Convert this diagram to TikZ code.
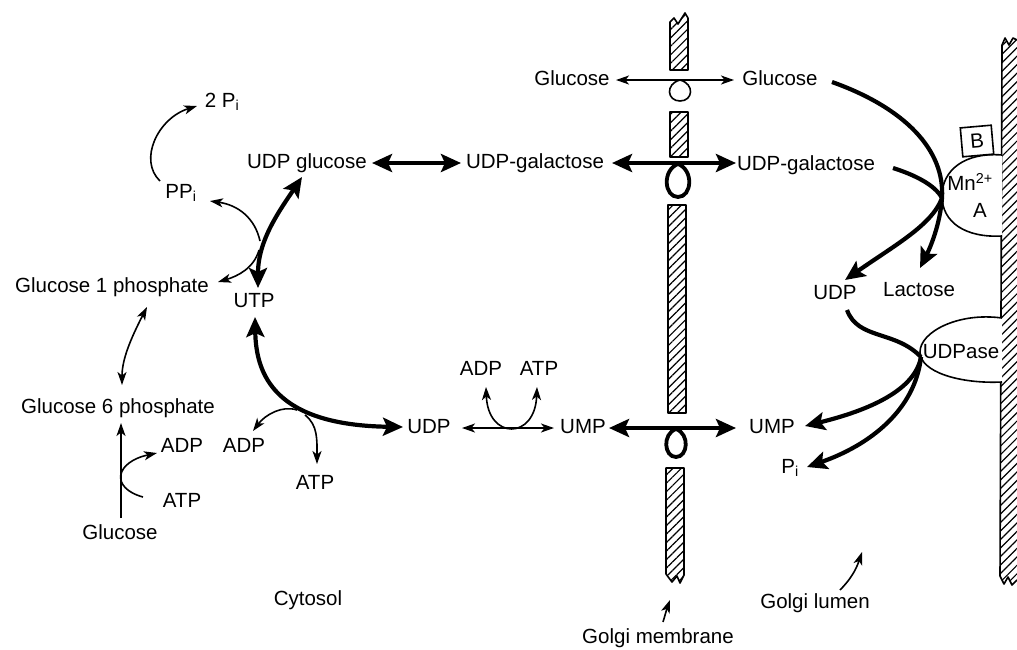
\documentclass[tikz,border=0pt]{standalone}
\usepackage{fontspec}
\setmainfont{Liberation Sans}
\usetikzlibrary{arrows.meta,patterns.meta}
\begin{document}
\begin{tikzpicture}[x=1pt,y=-1pt,
  lbl/.style={font=\fontsize{20.5}{23}\selectfont, inner sep=0pt},
  tarr/.style={line width=1.6pt, -{Stealth[length=13pt,width=9pt,inset=3.5pt]}},
  tboth/.style={line width=1.6pt, {Stealth[length=13pt,width=9pt,inset=3.5pt]}-{Stealth[length=13pt,width=9pt,inset=3.5pt]}},
  tline/.style={line width=1.6pt},
  barr/.style={line width=4.2pt, -{Stealth[length=20pt,width=18pt,inset=4pt]}},
  bboth/.style={line width=4.2pt, {Stealth[length=20pt,width=18pt,inset=4pt]}-{Stealth[length=20pt,width=18pt,inset=4pt]}},
  bline/.style={line width=4.2pt},
  hatch/.style={draw, line width=1.6pt, line join=round, pattern={Lines[angle=45,distance=6pt,line width=1.2pt]}},
  enz/.style={draw, line width=1.6pt, fill=white},
]
\useasboundingbox (0,0) rectangle (1017,649);

% ---------- membranes ----------
\path[hatch] (670,70) -- (670,22) -- (674,18) -- (678,24) -- (685,13) -- (688,18) -- (688,70) -- cycle;
\path[hatch] (670,112) rectangle (688,157);
\path[hatch] (668,205) rectangle (686,413);
\path[hatch] (666,468) -- (684,468) -- (684,575) -- (680,583) -- (677,576) -- (672,582) -- (666,574) -- cycle;
\path[pattern={Lines[angle=45,distance=6pt,line width=1.2pt]}] (1002,45) -- (1005,38) -- (1009,45) -- (1013,38) -- (1017,40) -- (1017,580) -- (1012,585) -- (1008,577) -- (1004,584) -- (1000,576) -- cycle;
\draw[line width=1.6pt, line join=round] (1017,40) -- (1013,38) -- (1009,45) -- (1005,38) -- (1002,45) -- (1000,576) -- (1004,584) -- (1008,577) -- (1012,585) -- (1017,580);

% ---------- enzymes ----------
\draw[enz] (1002,155) .. controls (965,152) and (942,170) .. (942,196) .. controls (942,222) and (965,238) .. (1002,236);
\node[draw, line width=1.6pt, fill=white, minimum width=31pt, minimum height=29pt, inner sep=0pt, rotate=5, font=\fontsize{20.5}{23}\selectfont] (B) at (977,141) {B};
\draw[enz] (1002,318) .. controls (958,312) and (920,332) .. (920,352) .. controls (920,372) and (960,384) .. (1002,382);

% ---------- labels ----------
\node[lbl] (twoPi) at (222,102) {2 P\textsubscript{i}};
\node[lbl] (PPi) at (181,193) {PP\textsubscript{i}};
\node[lbl] (udpglu) at (307,163) {UDP glucose};
\node[lbl] (udpgalL) at (535,163) {UDP-galactose};
\node[lbl] (glcL) at (572,78) {Glucose};
\node[lbl] (glcR) at (780,78) {Glucose};
\node[lbl] (udpgalR) at (806,165) {UDP-galactose};
\node[lbl] (g1p) at (112,287) {Glucose 1 phosphate};
\node[lbl] (utp) at (254,301) {UTP};
\node[lbl] (g6p) at (118,408) {Glucose 6 phosphate};
\node[lbl] (adpA) at (182,445) {ADP};
\node[lbl] (atpA) at (182,500) {ATP};
\node[lbl] (glc) at (120,532) {Glucose};
\node[lbl] (adpB) at (244,445) {ADP};
\node[lbl] (atpB) at (315,482) {ATP};
\node[lbl] (udpC) at (429,427) {UDP};
\node[lbl] (adpC) at (481,368) {ADP};
\node[lbl] (atpC) at (539,368) {ATP};
\node[lbl] (umpL) at (583,427) {UMP};
\node[lbl] (umpR) at (772,427) {UMP};
\node[lbl] (Pi) at (790,468) {P\textsubscript{i}};
\node[lbl] (udpR) at (835,293) {UDP};
\node[lbl] (lac) at (919,290) {Lactose};
\node[lbl] (Mn) at (970,182) {Mn\textsuperscript{2+}};
\node[lbl] (A) at (980,210) {A};
\node[lbl] (udpase) at (961,352) {UDPase};
\node[lbl] (cyto) at (308,600) {Cytosol};
\node[lbl] (lumen) at (815,603) {Golgi lumen};
\node[lbl] (memb) at (658,638) {Golgi membrane};

% ---------- connector end points ----------
\coordinate (ppOut) at (160,181);
\coordinate (twoPiIn) at (197,106);
\coordinate (udpgluIn) at (302,177);
\coordinate (utpTop) at (258,288);
\coordinate (jA) at (260,241);
\coordinate (jB) at (259,250);
\coordinate (PPiIn) at (210,201);
\coordinate (g1pIn) at (218,282);
\coordinate (g1pLow) at (147,307);
\coordinate (g6pTop) at (122,385);
\coordinate (glcTop) at (121,518);
\coordinate (g6pLow) at (121,423);
\coordinate (atpAOut) at (143,497);
\coordinate (adpAIn) at (157,453);
\coordinate (utpLow) at (255,317);
\coordinate (udpCIn) at (403,427);
\coordinate (jC) at (297,410);
\coordinate (jD) at (305,415);
\coordinate (adpBIn) at (253,431);
\coordinate (atpBIn) at (317,464);
\coordinate (udpCOut) at (462,428);
\coordinate (umpLIn) at (554,428);
\coordinate (adpCIn) at (486,387);
\coordinate (atpCIn) at (537,387);
\coordinate (glcLIn) at (616,80);
\coordinate (glcRIn) at (734,80);
\coordinate (udpgalLIn) at (461,163);
\coordinate (udpgluR) at (372,163);
\coordinate (udpgalLOut) at (612,163);
\coordinate (udpgalRIn) at (736,163);
\coordinate (umpLOut) at (609,428);
\coordinate (umpRIn) at (736,428);
\coordinate (glcROut) at (832,82);
\coordinate (enzA) at (942,198);
\coordinate (lacIn) at (920,268);
\coordinate (udpgalROut) at (893,168);
\coordinate (udpRIn) at (845,280);
\coordinate (udpROut) at (847,310);
\coordinate (enzU) at (921,357);
\coordinate (umpRIn2) at (805,426);
\coordinate (PiIn) at (807,467);
\coordinate (lumenA) at (840,590);
\coordinate (lumenB) at (862,552);
\coordinate (membA) at (663,622);
\coordinate (membB) at (670,600);

% ---------- cytosol reactions ----------
\draw[tarr] (ppOut) .. controls (138,160) and (158,118) .. (twoPiIn);
\draw[bboth] (udpgluIn) .. controls (280,210) and (258,240) .. (utpTop);
\draw[tarr] (jA) .. controls (255,218) and (238,205) .. (PPiIn);
\draw[tarr] (jB) .. controls (254,268) and (238,276) .. (g1pIn);
\draw[tboth] (g1pLow) .. controls (130,340) and (122,360) .. (g6pTop);
\draw[tarr] (glcTop) -- (g6pLow);
\draw[tarr] (atpAOut) .. controls (110,488) and (115,462) .. (adpAIn);
\draw[bboth] (utpLow) .. controls (256,375) and (275,425) .. (udpCIn);
\draw[tarr] (jC) .. controls (282,405) and (265,415) .. (adpBIn);
\draw[tarr] (jD) .. controls (318,425) and (317,440) .. (atpBIn);
\draw[tboth] (udpCOut) -- (umpLIn);
\draw[tboth] (adpCIn) .. controls (488,440) and (535,440) .. (atpCIn);
\draw[bboth] (udpgluR) -- (udpgalLIn);

% ---------- transporters ----------
\draw[tboth] (glcLIn) -- (glcRIn);
\draw[tline] (680,80) .. controls (665,84) and (667,101) .. (680,101) .. controls (693,101) and (695,84) .. (680,80);
\draw[bboth] (udpgalLOut) -- (udpgalRIn);
\draw[line width=3.8pt] (678,164) .. controls (662,170) and (664,197) .. (678,197) .. controls (692,197) and (694,170) .. (678,164);
\draw[bboth] (umpLOut) -- (umpRIn);
\draw[line width=3.8pt] (676,429) .. controls (662,434) and (664,457) .. (676,457) .. controls (688,457) and (690,434) .. (676,429);

% ---------- lumen reactions ----------
\draw[bline] (glcROut) .. controls (905,108) and (945,150) .. (enzA);
\draw[barr] (enzA) .. controls (940,225) and (930,248) .. (lacIn);
\draw[bline] (udpgalROut) .. controls (915,175) and (935,185) .. (enzA);
\draw[barr] (enzA) .. controls (932,225) and (895,245) .. (udpRIn);
\draw[bline] (udpROut) .. controls (858,340) and (895,330) .. (enzU);
\draw[barr] (enzU) .. controls (915,390) and (870,410) .. (umpRIn2);
\draw[barr] (enzU) .. controls (915,410) and (870,445) .. (PiIn);

% ---------- pointer arrows ----------
\draw[tarr] (lumenA) .. controls (850,580) and (856,570) .. (lumenB);
\draw[tarr] (membA) .. controls (666,612) and (667,608) .. (membB);
\end{tikzpicture}
\end{document}
